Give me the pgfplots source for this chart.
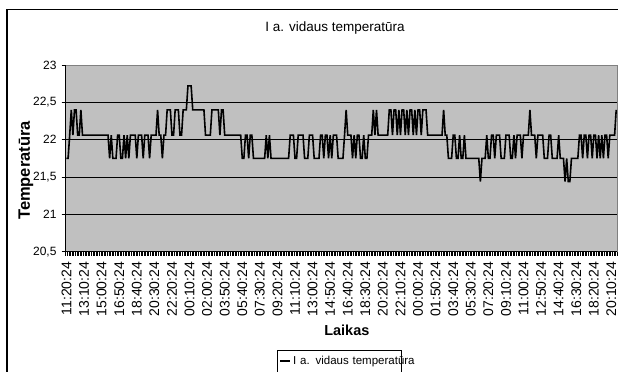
\documentclass[border=0pt]{standalone}
\usepackage{fontspec}
\setmainfont{Liberation Sans}
\usepackage{pgfplots}
\pgfplotsset{compat=1.18}
\definecolor{plotgray}{RGB}{192,192,192}
\definecolor{bordergray}{RGB}{128,128,128}
\begin{document}
\begin{tikzpicture}
\path[use as bounding box] (0bp,0bp) rectangle (618bp,372bp);
\draw[line width=1.5bp] (7bp,-5bp) -- (7bp,362.7bp) -- (625bp,362.7bp);
\begin{axis}[
  at={(65.7bp,120.3bp)}, anchor=south west,
  width=551.3bp, height=186.7bp, scale only axis,
  xmin=-0.5, xmax=344.5, ymin=20.5, ymax=23,
  axis lines=left,
  axis line style={-, black, line width=0.8bp},
  axis background/.style={fill=plotgray, draw=bordergray, line width=0.8bp},
  tick align=outside,
  tick style={black, line width=0.6bp},
  major tick length=4bp, minor tick length=4bp,
  xtick={0,11,...,341},
  xticklabels={11:20:24,13:10:24,15:00:24,16:50:24,18:40:24,20:30:24,22:20:24,00:10:24,02:00:24,03:50:24,05:40:24,07:30:24,09:20:24,11:10:24,13:00:24,14:50:24,16:40:24,18:30:24,20:20:24,22:10:24,00:00:24,01:50:24,03:40:24,05:30:24,07:20:24,09:10:24,11:00:24,12:50:24,14:40:24,16:30:24,18:20:24,20:10:24},
  major x tick style={draw=none},
  minor xtick={-0.5,0.5,...,344.5},
  ytick={20.5,21,21.5,22,22.5,23},
  yticklabels={{20,5},21,{21,5},22,{22,5},23},
  extra y ticks={21,21.5,22,22.5},
  extra y tick labels={},
  extra y tick style={grid=major},
  major grid style={black, line width=0.8bp},
  x tick label style={rotate=90, anchor=east, font=\fontsize{14bp}{15bp}\selectfont, inner sep=0pt},
  xticklabel shift=6bp,
  y tick label style={font=\fontsize{12bp}{13bp}\selectfont, inner sep=0pt},
  yticklabel shift=5bp,
  title={I a. vidaus temperatūra},
  title style={at={(axis description cs:0.4885,1.15)}, anchor=base, font=\fontsize{13.5bp}{14bp}\selectfont},
  xlabel={Laikas},
  xlabel style={at={(axis description cs:0.510,-0.4515)}, anchor=base, font=\fontsize{14.5bp}{15bp}\selectfont\bfseries},
  ylabel={Temperatūra},
  ylabel style={at={(axis description cs:-0.072,0.435)}, anchor=center, font=\fontsize{16.5bp}{17bp}\selectfont\bfseries},
  legend style={at={(axis description cs:0.3833,-0.5265)}, anchor=north west, draw=black, line width=0.8bp, fill=white, font=\fontsize{11.5bp}{12bp}\selectfont, inner xsep=2bp, inner ysep=4bp},
  legend image code/.code={\draw[black, line width=1.8bp] (0bp,0bp) -- (10bp,0bp);},
]
\addplot[black, line width=1.6bp] coordinates {
(0,21.75)(1,21.75)(2,22.06)(3,22.40)(4,22.06)(5,22.40)(6,22.40)(7,22.06)(8,22.06)(9,22.40)
(10,22.06)(11,22.06)(12,22.06)(13,22.06)(14,22.06)(15,22.06)(16,22.06)(17,22.06)(18,22.06)(19,22.06)
(20,22.06)(21,22.06)(22,22.06)(23,22.06)(24,22.06)(25,22.06)(26,22.06)(27,21.75)(28,22.06)(29,21.75)
(30,21.75)(31,21.75)(32,22.06)(33,22.06)(34,21.75)(35,21.75)(36,22.06)(37,21.75)(38,22.06)(39,21.75)
(40,22.06)(41,22.06)(42,22.06)(43,22.06)(44,21.75)(45,22.06)(46,22.06)(47,22.06)(48,21.75)(49,22.06)
(50,22.06)(51,22.06)(52,21.75)(53,22.06)(54,22.06)(55,22.06)(56,22.06)(57,22.40)(58,22.06)(59,22.06)
(60,21.75)(61,22.06)(62,22.06)(63,22.40)(64,22.40)(65,22.40)(66,22.06)(67,22.06)(68,22.40)(69,22.40)
(70,22.40)(71,22.06)(72,22.06)(73,22.40)(74,22.40)(75,22.40)(76,22.72)(77,22.72)(78,22.72)(79,22.40)
(80,22.40)(81,22.40)(82,22.40)(83,22.40)(84,22.40)(85,22.40)(86,22.40)(87,22.06)(88,22.06)(89,22.06)
(90,22.06)(91,22.40)(92,22.40)(93,22.40)(94,22.40)(95,22.40)(96,22.06)(97,22.40)(98,22.40)(99,22.06)
(100,22.06)(101,22.06)(102,22.06)(103,22.06)(104,22.06)(105,22.06)(106,22.06)(107,22.06)(108,22.06)(109,22.06)
(110,21.75)(111,21.75)(112,22.06)(113,22.06)(114,21.75)(115,22.06)(116,22.06)(117,21.75)(118,21.75)(119,21.75)
(120,21.75)(121,21.75)(122,21.75)(123,21.75)(124,21.75)(125,22.06)(126,21.75)(127,22.06)(128,21.75)(129,21.75)
(130,21.75)(131,21.75)(132,21.75)(133,21.75)(134,21.75)(135,21.75)(136,21.75)(137,21.75)(138,21.75)(139,21.75)
(140,22.06)(141,22.06)(142,22.06)(143,21.75)(144,21.75)(145,22.06)(146,22.06)(147,22.06)(148,22.06)(149,21.75)
(150,21.75)(151,21.75)(152,22.06)(153,22.06)(154,22.06)(155,21.75)(156,21.75)(157,21.75)(158,21.75)(159,22.06)
(160,22.06)(161,21.75)(162,22.06)(163,22.06)(164,21.75)(165,22.06)(166,21.75)(167,22.06)(168,22.06)(169,22.06)
(170,21.75)(171,21.75)(172,21.75)(173,21.75)(174,22.06)(175,22.40)(176,22.06)(177,22.06)(178,22.06)(179,21.75)
(180,22.06)(181,21.75)(182,22.06)(183,22.06)(184,21.75)(185,21.75)(186,22.06)(187,21.75)(188,21.75)(189,22.06)
(190,22.06)(191,22.06)(192,22.40)(193,22.06)(194,22.40)(195,22.06)(196,22.06)(197,22.06)(198,22.06)(199,22.06)
(200,22.06)(201,22.06)(202,22.40)(203,22.40)(204,22.06)(205,22.40)(206,22.40)(207,22.06)(208,22.40)(209,22.06)
(210,22.40)(211,22.40)(212,22.06)(213,22.40)(214,22.06)(215,22.40)(216,22.40)(217,22.06)(218,22.40)(219,22.06)
(220,22.40)(221,22.40)(222,22.06)(223,22.40)(224,22.40)(225,22.40)(226,22.06)(227,22.06)(228,22.06)(229,22.06)
(230,22.06)(231,22.06)(232,22.06)(233,22.06)(234,22.06)(235,22.06)(236,22.40)(237,22.06)(238,22.06)(239,21.75)
(240,21.75)(241,21.75)(242,22.06)(243,22.06)(244,21.75)(245,21.75)(246,22.06)(247,21.75)(248,21.75)(249,22.06)
(250,21.75)(251,21.75)(252,21.75)(253,21.75)(254,21.75)(255,21.75)(256,21.75)(257,21.75)(258,21.75)(259,21.44)
(260,21.75)(261,21.75)(262,21.75)(263,22.06)(264,21.75)(265,21.75)(266,22.06)(267,22.06)(268,21.75)(269,22.06)
(270,22.06)(271,22.06)(272,21.75)(273,21.75)(274,21.75)(275,22.06)(276,22.06)(277,22.06)(278,21.75)(279,21.75)
(280,22.06)(281,21.75)(282,22.06)(283,22.06)(284,22.06)(285,21.75)(286,22.06)(287,22.06)(288,22.06)(289,22.06)
(290,22.40)(291,22.06)(292,22.06)(293,22.06)(294,21.75)(295,22.06)(296,22.06)(297,22.06)(298,22.06)(299,21.75)
(300,21.75)(301,21.75)(302,22.06)(303,22.06)(304,21.75)(305,21.75)(306,21.75)(307,21.75)(308,22.06)(309,21.75)
(310,21.75)(311,21.75)(312,21.44)(313,21.75)(314,21.44)(315,21.44)(316,21.75)(317,21.75)(318,21.75)(319,21.75)
(320,21.75)(321,22.06)(322,22.06)(323,21.75)(324,22.06)(325,22.06)(326,21.75)(327,22.06)(328,22.06)(329,21.75)
(330,22.06)(331,22.06)(332,21.75)(333,22.06)(334,21.75)(335,22.06)(336,21.75)(337,22.06)(338,22.06)(339,21.75)
(340,22.06)(341,22.06)(342,22.06)(343,22.06)(344,22.40)
};
\addlegendentry[text width=104bp]{\mbox{I a. vidaus temperatūra}}
\end{axis}
\end{tikzpicture}
\end{document}
